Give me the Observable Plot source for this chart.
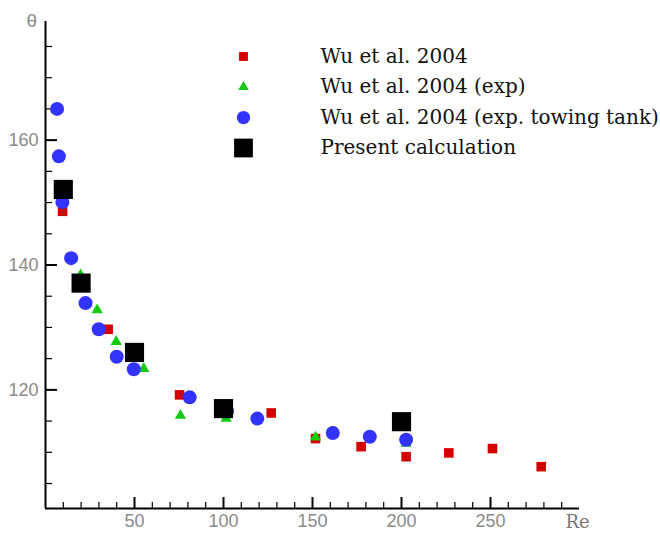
<!DOCTYPE html>
<html><head><meta charset="utf-8">
<script src="https://cdn.jsdelivr.net/npm/d3@7"></script>
<script src="https://cdn.jsdelivr.net/npm/@observablehq/plot@0.6"></script>
<style>body{margin:0;background:#fff} #chart{width:660px;height:534px}</style>
</head><body><div id="chart"></div>
<script>
// Data
const simRe = [9.6, 35.2, 75.3, 126.8, 151.7, 177.3, 202.6, 226.6, 251.1, 278.5];
const simTheta = [148.6, 129.7, 119.2, 116.3, 112.2, 110.9, 109.3, 109.9, 110.6, 107.7];
const expRe = [19.7, 29, 39.7, 55.2, 75.8, 101.5, 151.7, 202.6];
const expTheta = [138.4, 132.8, 127.7, 123.4, 115.9, 115.4, 112.4, 111.4];
const tankRe = [6.5, 7.5, 9.5, 14.4, 22.5, 29.9, 40, 49.6, 81, 102, 119, 161.4, 182.2, 202.6];
const tankTheta = [165, 157.4, 150.1, 141.1, 133.9, 129.7, 125.3, 123.3, 118.8, 116.6, 115.4, 113.1, 112.5, 112.0];
const presentRe = [10, 20, 50, 100, 200];
const presentTheta = [152.1, 137.1, 126.0, 117.0, 114.9];
const seriesLabels = ["Wu et al. 2004", "Wu et al. 2004 (exp)", "Wu et al. 2004 (exp. towing tank)", "Present calculation"];
const xTicks = [50, 100, 150, 200, 250];
const yTicks = [120, 140, 160];
const xMinor = d3.range(10, 300, 10).filter(v => v % 50);
const yMinor = d3.range(105, 180, 5).filter(v => v % 20);
const xLabel = "Re";
const yLabel = "θ";

const zip = (xs, ys) => xs.map((x, i) => ({x, y: ys[i]}));
const styles = [
  {symbol: "square", fill: "#d40000", r: 5.4, lr: 5},
  {symbol: "triangle", fill: "#11cc11", r: 4.2, lr: 3.9},
  {symbol: "circle", fill: "#3333ff", r: 7, lr: 6.6},
  {symbol: "square", fill: "#000000", r: 10.8, lr: 10.6}
];
const sets = [zip(simRe, simTheta), zip(expRe, expTheta), zip(tankRe, tankTheta), zip(presentRe, presentTheta)];

const W = 660, H = 534, mL = 45, mR = 81, mT = 21, mB = 26;
const innerW = W - mL - mR, innerH = H - mT - mB;
const sans = "'Liberation Sans', Arial, sans-serif";
const serif = "'DejaVu Serif', serif";

const legendMarks = seriesLabels.flatMap((lab, i) => {
  const dy = 35 + i * 30.5;
  const s = styles[i];
  return [
    Plot.dot([lab], {frameAnchor: "top-left", dx: 198, dy, symbol: s.symbol, fill: s.fill, r: s.lr, stroke: "none"}),
    Plot.text([lab], {frameAnchor: "top-left", dx: 275, dy, text: d => d, textAnchor: "start", lineAnchor: "middle",
      fontFamily: serif, fontSize: 20, fill: "#111"})
  ];
});

const chart = Plot.plot({
  width: W, height: H,
  marginLeft: mL, marginRight: mR, marginTop: mT, marginBottom: mB,
  x: {domain: [0, 300], axis: null},
  y: {domain: [101, 179], axis: null},
  style: {background: "white", overflow: "visible"},
  marks: [
    Plot.tickX(xMinor, {x: d => d, insetTop: innerH - 6, stroke: "black", strokeWidth: 1.2}),
    Plot.tickX(xTicks, {x: d => d, insetTop: innerH - 11, stroke: "black", strokeWidth: 2}),
    Plot.tickY(yMinor, {y: d => d, insetRight: innerW - 7, stroke: "black", strokeWidth: 1.2}),
    Plot.tickY(yTicks, {y: d => d, insetRight: innerW - 12, stroke: "black", strokeWidth: 2}),
    Plot.ruleX([0], {stroke: "black", strokeWidth: 2}),
    Plot.ruleY([101], {stroke: "black", strokeWidth: 2}),
    Plot.text(xTicks, {x: d => d, frameAnchor: "bottom", dy: 13, lineAnchor: "middle", text: d => String(d),
      fontFamily: sans, fontSize: 18, fill: "#8a8a8a"}),
    Plot.text(yTicks, {y: d => d, frameAnchor: "left", dx: -7, text: d => String(d), textAnchor: "end", lineAnchor: "middle",
      fontFamily: sans, fontSize: 18, fill: "#8a8a8a"}),
    Plot.text([yLabel], {frameAnchor: "top-left", dx: -19, dy: -1, lineAnchor: "middle", text: d => d,
      fontFamily: sans, fontSize: 19, fill: "#8a8a8a"}),
    Plot.text([xLabel], {frameAnchor: "bottom-right", dx: -14, dy: 14, lineAnchor: "middle", text: d => d, textAnchor: "start",
      fontFamily: serif, fontSize: 18, fill: "#777"}),
    ...sets.map((data, i) => Plot.dot(data, {x: "x", y: "y", symbol: styles[i].symbol, fill: styles[i].fill, r: styles[i].r, stroke: "none"})),
    ...legendMarks
  ]
});
document.getElementById("chart").append(chart);
</script>
</body></html>
